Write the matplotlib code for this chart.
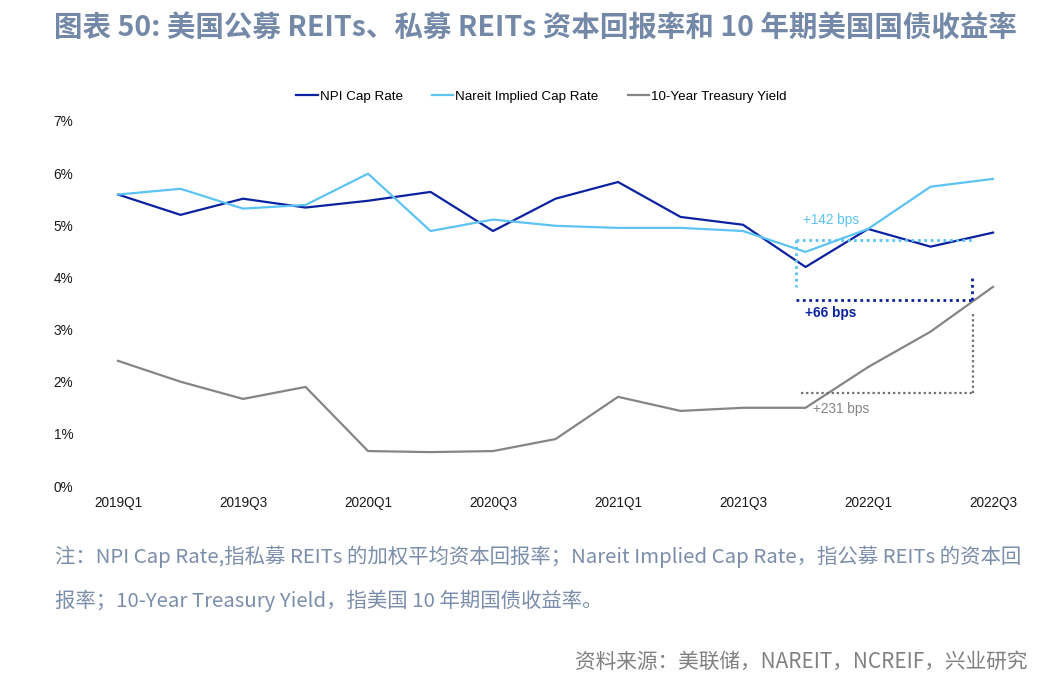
import matplotlib
matplotlib.use('Agg')
import matplotlib.pyplot as plt
import numpy as np

quarters = ['2019Q1', '2019Q2', '2019Q3', '2019Q4', '2020Q1', '2020Q2', '2020Q3', '2020Q4',
            '2021Q1', '2021Q2', '2021Q3', '2021Q4', '2022Q1', '2022Q2', '2022Q3']
npi_cap = [5.59, 5.20, 5.51, 5.34, 5.47, 5.64, 4.89, 5.51, 5.83, 5.16, 5.01, 4.20, 4.93, 4.59, 4.86]
nareit_cap = [5.59, 5.70, 5.32, 5.39, 5.99, 4.89, 5.11, 4.99, 4.95, 4.95, 4.89, 4.49, 4.93, 5.74, 5.89]
treasury = [2.40, 2.00, 1.67, 1.90, 0.67, 0.65, 0.67, 0.90, 1.71, 1.44, 1.50, 1.50, 2.28, 2.96, 3.82]

c_npi = '#0b22a0'
c_nareit = '#5cc3f3'
c_tsy = '#858585'
c_title = '#7489a7'

cjk = ['Noto Sans CJK SC', 'DejaVu Sans']
plt.rcParams['font.family'] = ['Liberation Sans', 'DejaVu Sans']

fig = plt.figure(figsize=(10.58, 6.91), dpi=100)
ax = fig.add_axes([89.9 / 1058, 205 / 691, 921.9 / 1058, 365 / 691])

x = np.arange(len(quarters))
ax.plot(x, npi_cap, color=c_npi, lw=1.6, label='NPI Cap Rate')
ax.plot(x, nareit_cap, color=c_nareit, lw=1.6, label='Nareit Implied Cap Rate')
ax.plot(x, treasury, color=c_tsy, lw=1.6, label='10-Year Treasury Yield')

# spread annotations
dot = (0, (1, 1.3))
ax.plot([10.85, 13.66], [4.72, 4.72], color=c_nareit, lw=2, ls=dot)
ax.plot([10.85, 10.85], [4.72, 3.82], color=c_nareit, lw=2, ls=dot)
ax.plot([10.85, 13.66], [3.57, 3.57], color=c_npi, lw=2, ls=dot)
ax.plot([13.66, 13.66], [3.57, 4.03], color=c_npi, lw=2, ls=dot)
ax.plot([10.93, 13.68], [1.79, 1.79], color='#6e6e6e', lw=1.6, ls=dot)
ax.plot([13.68, 13.68], [1.79, 3.34], color='#6e6e6e', lw=1.6, ls=dot)
ax.text(10.96, 5.11, '+142 bps', color=c_nareit, fontsize=9.8, va='center')
ax.text(10.99, 3.32, '+66 bps', color=c_npi, fontsize=9.8, va='center', fontweight='bold')
ax.text(11.12, 1.48, '+231 bps', color=c_tsy, fontsize=9.8, va='center')

ax.set_xlim(-0.45, 14.3)
ax.set_ylim(0, 7)
ax.set_xticks(x[::2])
ax.set_xticklabels(quarters[::2])
ax.set_yticks(range(8))
ax.set_yticklabels([f'{i}%' for i in range(8)])
ax.tick_params(length=0, labelsize=9.8, colors='#1a1a1a')
ax.tick_params(axis='y', pad=12)
ax.tick_params(axis='x', pad=7)
for s in ax.spines.values():
    s.set_visible(False)

ax.legend(loc='center', bbox_to_anchor=(0.49, 1.066), ncol=3, frameon=False, fontsize=9.6,
          handlelength=1.6, handletextpad=0.15, columnspacing=2.2)

fig.text(0.506, 1 - 28 / 691, '图表 50: 美国公募 REITs、私募 REITs 资本回报率和 10 年期美国国债收益率',
         family=cjk, fontsize=20.5, color=c_title, ha='center', va='center', fontweight='bold')
fig.text(55 / 1058, 1 - 557 / 691,
         '注：NPI Cap Rate,指私募 REITs 的加权平均资本回报率；Nareit Implied Cap Rate，指公募 REITs 的资本回',
         family=cjk, fontsize=14.7, color='#7a8daa', ha='left', va='center')
fig.text(55 / 1058, 1 - 601 / 691,
         '报率；10-Year Treasury Yield，指美国 10 年期国债收益率。',
         family=cjk, fontsize=14.7, color='#7a8daa', ha='left', va='center')
fig.text(1027 / 1058, 1 - 662 / 691, '资料来源：美联储，NAREIT，NCREIF，兴业研究',
         family=cjk, fontsize=14.9, color='#808080', ha='right', va='center')

fig.savefig('out.png', dpi=100)
